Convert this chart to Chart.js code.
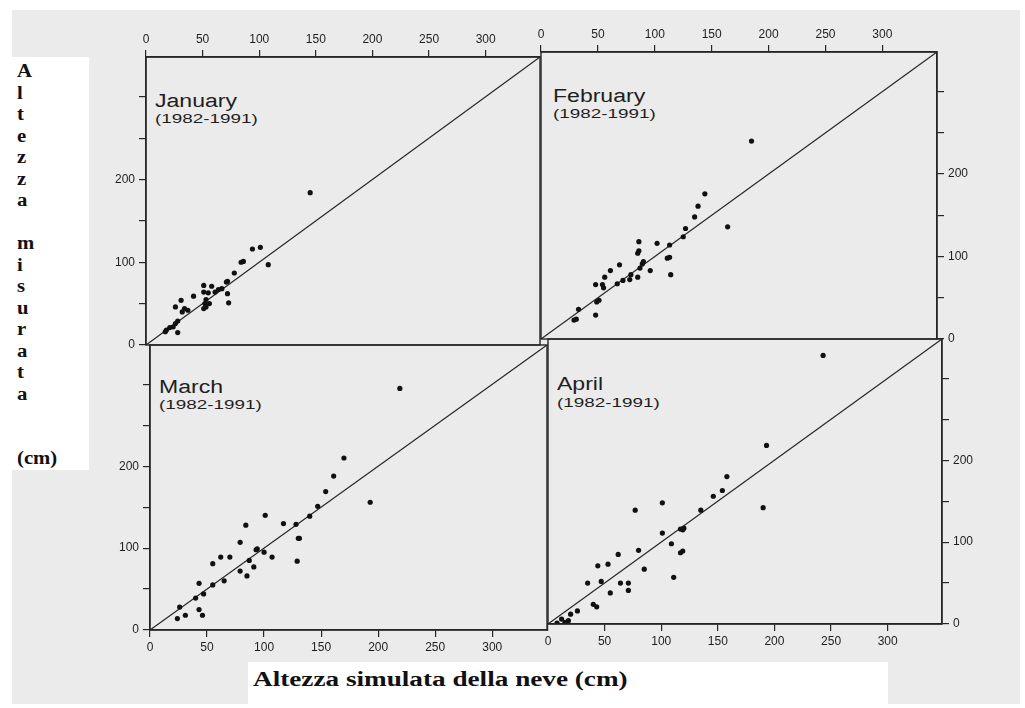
<!DOCTYPE html>
<html>
<head>
<meta charset="utf-8">
<script src="https://cdn.jsdelivr.net/npm/chart.js@4.4.1/dist/chart.umd.min.js"></script>
<style>
body{margin:0;background:#fff;}
#page{position:relative;width:1025px;height:708px;overflow:hidden;background:#fff;}
#paper{position:absolute;left:12px;top:10px;width:1008px;height:694px;background:#ebebeb;}
.box{position:absolute;background:#fff;}
canvas{position:absolute;}
.lab{position:absolute;font-family:"Liberation Sans",Arial,sans-serif;color:#1e1e1e;transform-origin:0 0;white-space:nowrap;line-height:1;}
.big{font-size:18px;transform:scaleX(1.28);}
.sub{font-size:13px;transform:scaleX(1.45);}
.ttl{position:absolute;font-family:"Liberation Serif","Times New Roman",serif;font-weight:bold;color:#111;white-space:pre;transform-origin:0 0;}
</style>
</head>
<body>
<div id="page">
  <div id="paper"></div>
  <div class="box" style="left:12px;top:57px;width:77px;height:413px"></div>
  <div class="box" style="left:248px;top:662px;width:640px;height:44px"></div>
  <div class="ttl" style="left:17px;top:61px;font-size:18px;line-height:21.5px;transform:scaleX(1.15)">A
l
t
e
z
z
a

m
i
s
u
r
a
t
a


(cm)</div>
  <div class="ttl" style="left:253px;top:668px;font-size:20px;transform:scaleX(1.36)">Altezza simulata della neve (cm)</div>
  <div class="lab big" style="left:155px;top:92px">January</div>
  <div class="lab sub" style="left:155px;top:112px">(1982-1991)</div>
  <div class="lab big" style="left:553px;top:87px">February</div>
  <div class="lab sub" style="left:553px;top:107px">(1982-1991)</div>
  <div class="lab big" style="left:159px;top:378px">March</div>
  <div class="lab sub" style="left:159px;top:398px">(1982-1991)</div>
  <div class="lab big" style="left:557px;top:375px">April</div>
  <div class="lab sub" style="left:557px;top:396px">(1982-1991)</div>
</div>
<script>
// simulated (x) vs measured (y) snow depth, cm
const janSim = [145,101,94,108,86,84,78,72,71,67,64,72,73,58,51,51,55,53,52,53,51,42,31,26,34,37,32,28,26,21,18,17,28,24,56,61];
const janMis = [184,118,116,97,101,100,87,77,76,68,67,62,51,71,72,64,63,55,50,46,44,59,54,46,44,42,40,29,26,21,18,16,15,22,50,64];

const febSim = [185,144,138,135,164,127,125,113,102,86,86,85,113,111,114,96,89,87,85,79,78,69,61,56,54,55,48,67,72,51,49,48,33,31,29,90];
const febMis = [240,176,161,148,136,134,124,114,116,118,107,104,99,98,78,83,91,86,75,78,72,90,83,75,66,62,66,67,71,47,45,29,36,24,23,94];

const marSim = [219,170,161,154,147,140,193,128,117,101,84,131,129,107,100,93,91,87,85,79,79,70,62,55,55,65,43,47,40,43,46,26,31,24,94,130];
const marMis = [295,210,188,169,151,139,156,129,130,140,128,112,84,89,95,98,77,85,66,72,107,89,89,81,55,60,57,44,39,25,18,28,18,14,99,112];

const aprSim = [243,193,190,158,154,146,135,120,119,101,101,109,119,117,111,77,80,85,62,53,44,47,35,64,71,71,55,40,43,26,20,15,18,8,117,12];
const aprMis = [328,218,142,180,163,156,139,117,115,148,111,98,89,87,57,139,90,67,85,73,71,52,50,50,50,41,38,24,21,16,12,2,4,1,116,6];

const xTicks = [0, 50, 100, 150, 200, 250, 300];
const yTicks = [0, 50, 100, 150, 200, 250, 300];
const yLabelled = [0, 100, 200];
const axisMax = 348;
const ink = '#262626';
const page = document.getElementById('page');

const frame = {
  id: 'frame',
  afterDatasetsDraw(chart) {
    const a = chart.chartArea, ctx = chart.ctx;
    ctx.save();
    ctx.strokeStyle = ink;
    ctx.lineWidth = 1.4;
    ctx.strokeRect(a.left, a.top, a.right - a.left, a.bottom - a.top);
    ctx.restore();
  }
};

function makePanel(p) {
  const AXW = 62, AXH = 30, PAD = 5;
  const w = p.right - p.left, h = p.bottom - p.top;
  const cv = document.createElement('canvas');
  const cl = p.yPos === 'left' ? p.left - AXW : p.left - PAD;
  const ct = p.xPos === 'top' ? p.top - AXH : p.top - PAD;
  const cw = w + AXW + PAD, ch = h + AXH + PAD;
  cv.width = cw; cv.height = ch;
  cv.style.left = cl + 'px'; cv.style.top = ct + 'px';
  cv.style.width = cw + 'px'; cv.style.height = ch + 'px';
  page.appendChild(cv);

  const tickFont = {family: '"Liberation Sans", Arial, sans-serif', size: 12};
  new Chart(cv, {
    type: 'scatter',
    data: {
      datasets: [
        {
          data: p.sim.map((x, i) => ({x: x, y: p.mis[i]})),
          pointRadius: 2.6,
          backgroundColor: '#111',
          borderWidth: 0
        },
        {
          data: [{x: 0, y: 0}, {x: axisMax, y: axisMax}],
          showLine: true,
          borderColor: ink,
          borderWidth: 1.2,
          pointRadius: 0
        }
      ]
    },
    options: {
      responsive: false,
      animation: false,
      events: [],
      layout: {
        padding: {
          left: p.yPos === 'left' ? 0 : PAD,
          right: p.yPos === 'left' ? PAD : 0,
          top: p.xPos === 'top' ? 0 : PAD,
          bottom: p.xPos === 'top' ? PAD : 0
        }
      },
      plugins: {legend: {display: false}, tooltip: {enabled: false}},
      scales: {
        x: {
          type: 'linear', position: p.xPos, min: 0, max: axisMax,
          afterBuildTicks(s) { s.ticks = xTicks.map(v => ({value: v})); },
          afterFit(s) { s.height = AXH; s.paddingLeft = 0; s.paddingRight = 0; },
          ticks: {
            autoSkip: false, maxRotation: 0,
            padding: 3, color: '#1e1e1e', font: tickFont,
            callback: v => String(v)
          },
          grid: {drawOnChartArea: false, tickLength: 7, color: ink, lineWidth: 1.2},
          border: {color: ink, width: 1.4}
        },
        y: {
          type: 'linear', position: p.yPos, min: 0, max: axisMax,
          afterBuildTicks(s) { s.ticks = yTicks.map(v => ({value: v})); },
          afterFit(s) { s.width = AXW; s.paddingTop = 0; s.paddingBottom = 0; },
          ticks: {
            autoSkip: false,
            padding: 4, color: '#1e1e1e', font: tickFont,
            callback: v => yLabelled.includes(v) ? String(v) : ''
          },
          grid: {drawOnChartArea: false, tickLength: 7, color: ink, lineWidth: 1.2},
          border: {color: ink, width: 1.4}
        }
      }
    },
    plugins: [frame]
  });
}

makePanel({sim: janSim, mis: janMis, left: 146, top: 57, right: 540, bottom: 345, xPos: 'top', yPos: 'left'});
makePanel({sim: febSim, mis: febMis, left: 541, top: 52, right: 937, bottom: 339, xPos: 'top', yPos: 'right'});
makePanel({sim: marSim, mis: marMis, left: 150, top: 345, right: 547, bottom: 630, xPos: 'bottom', yPos: 'left'});
makePanel({sim: aprSim, mis: aprMis, left: 548, top: 339, right: 942, bottom: 624, xPos: 'bottom', yPos: 'right'});
</script>
</body>
</html>
